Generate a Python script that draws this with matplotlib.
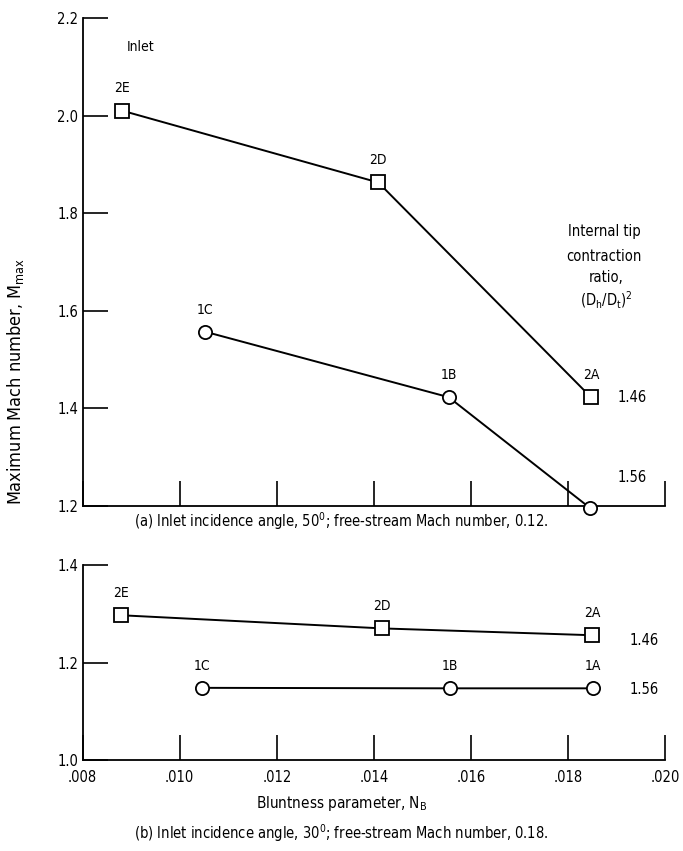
import matplotlib
matplotlib.use('Agg')
from matplotlib import pyplot as plt

# bluntness parameter N_B and max Mach number for each inlet
# (a) incidence 50 deg, free-stream Mach 0.12
a_sq_x = [0.00882, 0.01409, 0.01847]
a_sq_y = [2.01, 1.863, 1.423]
a_sq_lab = ['2E', '2D', '2A']
a_ci_x = [0.01053, 0.01554, 0.01845]
a_ci_y = [1.557, 1.423, 1.196]
a_ci_lab = ['1C', '1B', '1A']

# (b) incidence 30 deg, free-stream Mach 0.18
b_sq_x = [0.00879, 0.01417, 0.01849]
b_sq_y = [1.297, 1.270, 1.256]
b_sq_lab = ['2E', '2D', '2A']
b_ci_x = [0.01045, 0.01556, 0.01851]
b_ci_y = [1.148, 1.147, 1.147]
b_ci_lab = ['1C', '1B', '1A']

xticks = [0.008, 0.010, 0.012, 0.014, 0.016, 0.018, 0.020]
xtick_labels = ['.008', '.010', '.012', '.014', '.016', '.018', '.020']
a_yticks = [1.2, 1.4, 1.6, 1.8, 2.0, 2.2]
b_yticks = [1.0, 1.2, 1.4]

plt.rcParams['font.family'] = 'DejaVu Sans'
plt.rcParams['font.stretch'] = 'condensed'
plt.rcParams['font.size'] = 10

fig = plt.figure(figsize=(6.83, 8.51), dpi=100)
ax1 = fig.add_axes([0.121, 0.4054, 0.853, 0.5734])
ax2 = fig.add_axes([0.121, 0.107, 0.853, 0.229])

sty = dict(color='black', lw=1.4, markersize=9.5, markerfacecolor='white',
           markeredgewidth=1.3, clip_on=False, zorder=3)

for ax in (ax1, ax2):
    for s in ('top', 'right'):
        ax.spines[s].set_visible(False)
    ax.spines['left'].set_linewidth(1.3)
    ax.spines['bottom'].set_linewidth(1.3)
    ax.set_xlim(0.008, 0.020)
    ax.set_xticks(xticks)
    ax.tick_params(direction='in', length=18, width=1.2, labelsize=10.5, pad=3)

ax1.set_ylim(1.2, 2.2)
ax1.set_yticks(a_yticks)
ax1.set_yticklabels(['1.2', '1.4', '1.6', '1.8', '2.0', '2.2'])
ax1.set_xticklabels([])
ax1.plot(a_sq_x, a_sq_y, 's-', **sty)
ax1.plot(a_ci_x, a_ci_y, 'o-', **sty)
for x, y, t in zip(a_sq_x, a_sq_y, a_sq_lab):
    ax1.annotate(t, (x, y), xytext=(0, 11), textcoords='offset points', ha='center', va='bottom')
for x, y, t in zip(a_ci_x[:2], a_ci_y[:2], a_ci_lab[:2]):
    ax1.annotate(t, (x, y), xytext=(0, 11), textcoords='offset points', ha='center', va='bottom')
ax1.annotate(a_ci_lab[2], (a_ci_x[2], a_ci_y[2]), xytext=(4, 10), textcoords='offset points',
             ha='center', va='bottom')
ax1.text(0.00919, 2.141, 'Inlet', ha='center', va='center')
ax1.text(0.01874, 1.762, 'Internal tip', ha='center', va='center', fontsize=10.5)
ax1.text(0.01874, 1.712, 'contraction', ha='center', va='center', fontsize=10.5)
ax1.text(0.01878, 1.668, 'ratio,', ha='center', va='center', fontsize=10.5)
ax1.text(0.01878, 1.622, r'$(\mathrm{D_h/D_t})^2$', ha='center', va='center', fontsize=10.5)
ax1.text(0.01901, 1.422, '1.46', ha='left', va='center', fontsize=10.5)
ax1.text(0.01901, 1.259, '1.56', ha='left', va='center', fontsize=10.5)

ax2.set_ylim(1.0, 1.4)
ax2.set_yticks(b_yticks)
ax2.set_yticklabels(['1.0', '1.2', '1.4'])
ax2.set_xticklabels(xtick_labels)
ax2.tick_params(axis='x', pad=7)
ax2.plot(b_sq_x, b_sq_y, 's-', **sty)
ax2.plot(b_ci_x, b_ci_y, 'o-', **sty)
for x, y, t in zip(b_sq_x + b_ci_x, b_sq_y + b_ci_y, b_sq_lab + b_ci_lab):
    ax2.annotate(t, (x, y), xytext=(0, 11), textcoords='offset points', ha='center', va='bottom')
ax2.text(0.01926, 1.246, '1.46', ha='left', va='center', fontsize=10.5)
ax2.text(0.01926, 1.144, '1.56', ha='left', va='center', fontsize=10.5)

fig.text(0.50, 0.0564, r'Bluntness parameter, $\mathrm{N_B}$', ha='center', va='center', fontsize=11)
fig.text(0.50, 0.388, r'(a) Inlet incidence angle, 50$^0$; free-stream Mach number, 0.12.',
         ha='center', va='center', fontsize=10.5)
fig.text(0.50, 0.0212, r'(b) Inlet incidence angle, 30$^0$; free-stream Mach number, 0.18.',
         ha='center', va='center', fontsize=10.5)
fig.text(0.022, 0.552, r'Maximum Mach number, $\mathrm{M_{max}}$', rotation=90,
         ha='center', va='center', fontsize=13)

fig.savefig('out.png', dpi=100)
